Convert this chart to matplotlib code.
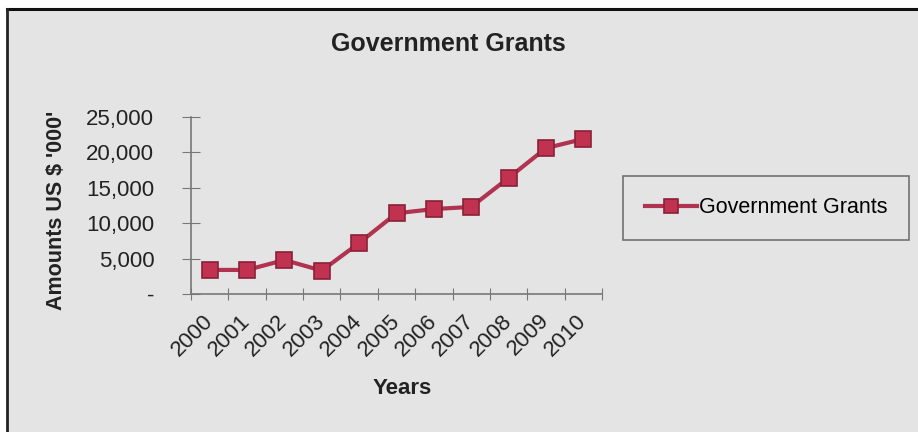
import matplotlib.pyplot as plt
from matplotlib.lines import Line2D
from matplotlib.ticker import FuncFormatter

years = ["2000", "2001", "2002", "2003", "2004", "2005",
         "2006", "2007", "2008", "2009", "2010"]
grants = [3400, 3400, 4800, 3300, 7200, 11400, 12000, 12300, 16400, 20600, 21900]
y_ticks = [0, 5000, 10000, 15000, 20000, 25000]

plt.rcParams["font.family"] = ["Liberation Sans", "DejaVu Sans"]

fig = plt.figure(figsize=(9.18, 4.32), dpi=100)
fig.patch.set_facecolor("white")

# grey chart area with a dark border on top and left (cropped screenshot look)
bg = plt.Rectangle((7 / 918, 0), 1, 1 - 9 / 432, transform=fig.transFigure,
                   facecolor="#e4e4e4", edgecolor="none", zorder=-2)
fig.patches.append(bg)
fig.add_artist(Line2D([7 / 918, 1], [1 - 9 / 432, 1 - 9 / 432],
                      transform=fig.transFigure, color="#111111", lw=2.2))
fig.add_artist(Line2D([7 / 918, 7 / 918], [0, 1 - 9 / 432],
                      transform=fig.transFigure, color="#222222", lw=2.0))

ax = fig.add_axes([191 / 918, 1 - 294 / 432, 411 / 918, 177 / 432])
ax.set_facecolor("none")

x = list(range(len(years)))
ax.plot(x, grants, color="#b0334f", lw=3, marker="s", markersize=12,
        markerfacecolor="#c0324f", markeredgecolor="#8a2138", markeredgewidth=1.2,
        label="Government Grants")

ax.set_xlim(-0.5, len(years) - 0.5)
ax.set_ylim(0, 25000)
ax.set_yticks(y_ticks)
ax.yaxis.set_major_formatter(FuncFormatter(lambda v, p: "-" if v == 0 else f"{int(v):,}"))
ax.set_xticks([i - 0.5 for i in range(len(years) + 1)], minor=False)
ax.set_xticklabels([])
ax.set_xticks(x, minor=True)
ax.set_xticklabels(years, minor=True, rotation=45, ha="right", va="center",
                   rotation_mode="anchor", fontsize=16, color="#222222")
ax.tick_params(axis="x", which="minor", length=0, pad=17)
ax.tick_params(axis="x", which="major", direction="inout", length=9, color="#777777")
ax.tick_params(axis="y", direction="inout", length=13, color="#777777",
               labelsize=16, labelcolor="#222222", pad=20)

for side in ("top", "right"):
    ax.spines[side].set_visible(False)
for side in ("left", "bottom"):
    ax.spines[side].set_color("#777777")
    ax.spines[side].set_linewidth(1.2)

fig.text(448 / 918, 1 - 44 / 432, "Government Grants", ha="center", va="center",
         fontsize=18, fontweight="bold", color="#222222")
fig.text(402 / 918, 1 - 388 / 432, "Years", ha="center", va="center",
         fontsize=16, fontweight="bold", color="#222222")
fig.text(57 / 918, 1 - 210 / 432, "Amounts US $ '000'", ha="center", va="center",
         rotation=90, fontsize=15.5, fontweight="bold", color="#222222")

leg = fig.legend(loc="center", bbox_to_anchor=(766 / 918, 1 - 208 / 432),
                 fontsize=15.5, frameon=True, fancybox=False, handlelength=2.4,
                 handletextpad=0.1, borderpad=1.0, markerscale=0.8)
leg.get_frame().set_edgecolor("#555555")
leg.get_frame().set_facecolor("#e4e4e4")
leg.get_frame().set_linewidth(1.2)

fig.savefig("out.png", dpi=100)
